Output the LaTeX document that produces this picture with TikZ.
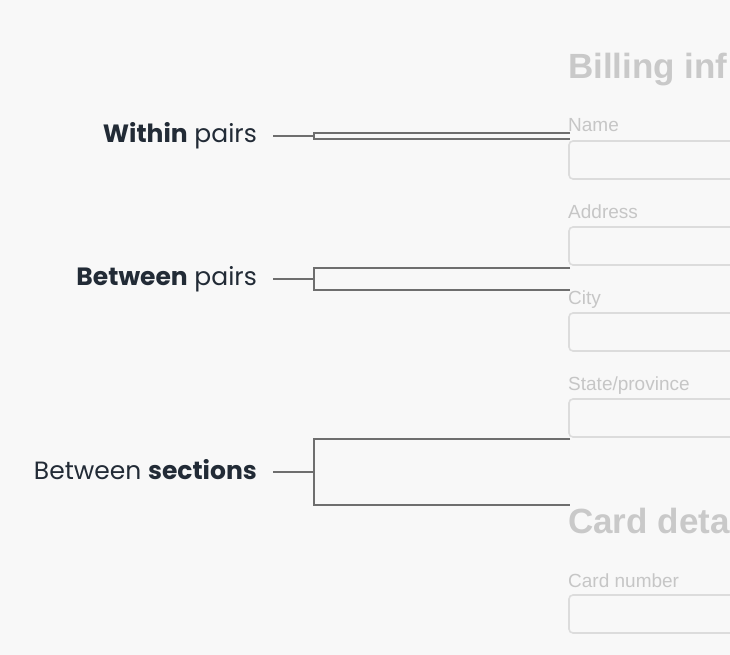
\documentclass[tikz,border=0pt]{standalone}
\usepackage{fontspec}
\setmainfont{Liberation Sans}
\newfontfamily\labelfont{Poppins}
\definecolor{bgcol}{HTML}{F8F8F8}
\definecolor{labelcol}{HTML}{222B36}
\definecolor{formtext}{HTML}{C6C6C6}
\definecolor{headcol}{HTML}{C9C9C9}
\definecolor{boxcol}{HTML}{DCDCDC}
\definecolor{brkcol}{HTML}{6E6E6E}
\begin{document}
\begin{tikzpicture}[x=1pt,y=-1pt,
  lbl/.style={font=\labelfont\fontsize{25}{28}\selectfont, text=labelcol, anchor=base east, inner sep=0pt},
  fieldlbl/.style={font=\fontsize{19}{22}\selectfont, text=formtext, anchor=base west, inner sep=0pt},
  heading/.style={font=\bfseries\fontsize{35}{40}\selectfont, text=headcol, anchor=base west, inner sep=0pt},
  field/.style={draw=boxcol, line width=1.6pt, rounded corners=4pt},
  brk/.style={draw=brkcol, line width=1.4pt},
  stub/.style={draw=brkcol, line width=1.1pt}]
\useasboundingbox (0,0) rectangle (730,655);
\fill[bgcol] (0,0) rectangle (730,655);

% form
\node[heading] (h1) at (568,79) {Billing inf};
\node[fieldlbl] (f1) at (568,132) {Name};
\draw[field] (733,141) -- (569,141) -- (569,179) -- (733,179);
\node[fieldlbl] (f2) at (568,218) {Address};
\draw[field] (733,227) -- (569,227) -- (569,265) -- (733,265);
\node[fieldlbl] (f3) at (568,304) {City};
\draw[field] (733,313) -- (569,313) -- (569,351) -- (733,351);
\node[fieldlbl] (f4) at (568,390) {State/province};
\draw[field] (733,399) -- (569,399) -- (569,437) -- (733,437);
\node[heading] (h2) at (568,533) {Card deta};
\node[fieldlbl] (f5) at (568,587) {Card number};
\draw[field] (733,595) -- (569,595) -- (569,633) -- (733,633);

% labels
\node[lbl] (l1) at (257,143) {\textbf{Within} pairs};
\node[lbl] (l2) at (257,285) {\textbf{Between} pairs};
\node[lbl] (l3) at (257,479) {Between \textbf{sections}};

% bracket coordinates
\coordinate (s1) at (273,136); \coordinate (v1) at (314,136);
\coordinate (t1) at (570,133); \coordinate (b1) at (570,139);
\coordinate (s2) at (273,279); \coordinate (v2) at (314,279);
\coordinate (t2) at (570,268); \coordinate (b2) at (570,290);
\coordinate (s3) at (273,472); \coordinate (v3) at (314,472);
\coordinate (t3) at (570,439); \coordinate (b3) at (570,505);

\draw[stub] (s1) -- (v1);
\draw[brk] (t1) -- (v1 |- t1) -- (v1 |- b1) -- (b1);
\draw[stub] (s2) -- (v2);
\draw[brk] (t2) -- (v2 |- t2) -- (v2 |- b2) -- (b2);
\draw[stub] (s3) -- (v3);
\draw[brk] (t3) -- (v3 |- t3) -- (v3 |- b3) -- (b3);
\end{tikzpicture}
\end{document}
